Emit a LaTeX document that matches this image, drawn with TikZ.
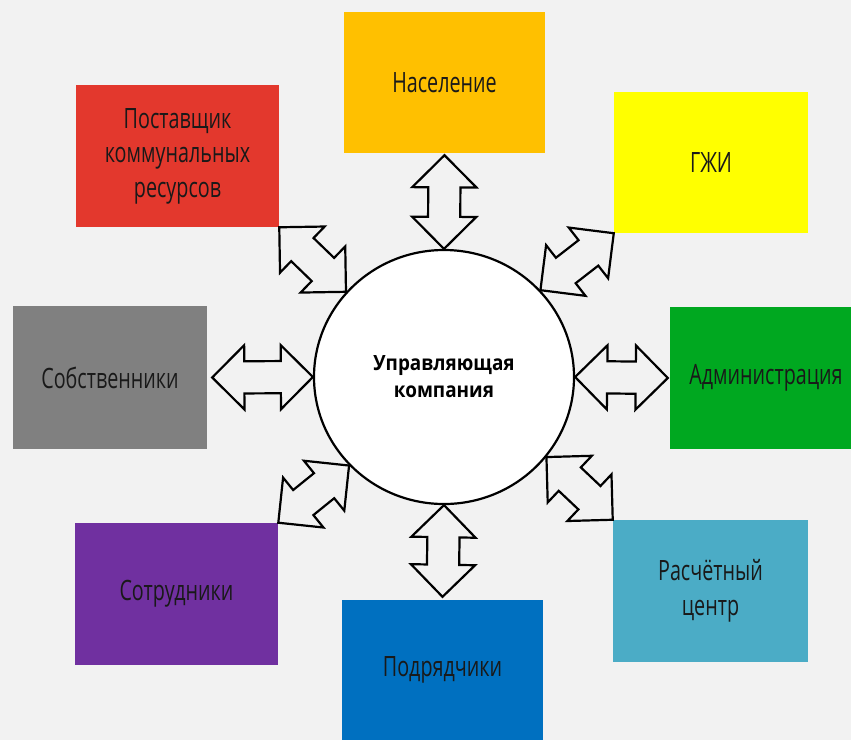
\documentclass[tikz,border=0pt]{standalone}
\usepackage{fontspec}
\setmainfont{Open Sans}[FakeStretch=0.705]
\newfontfamily\corefont{Open Sans}[FakeStretch=0.9]
\usetikzlibrary{shapes.geometric,shapes.arrows,calc}

\definecolor{bgray}{HTML}{F2F2F2}
\definecolor{cpop}{HTML}{FFC000}
\definecolor{cgzhi}{HTML}{FFFF00}
\definecolor{cadm}{HTML}{00A820}
\definecolor{ccalc}{HTML}{4BACC6}
\definecolor{ccontr}{HTML}{0070C0}
\definecolor{cstaff}{HTML}{7030A0}
\definecolor{cowner}{HTML}{808080}
\definecolor{csupp}{HTML}{E3382D}

\tikzset{
  party/.style={rectangle, inner sep=0pt, align=center, text=black!90,
    font=\fontsize{28}{34.5}\selectfont},
  link/.style={double arrow, draw=black, fill=bgray, line width=2.2pt,
    inner xsep=0pt, inner ysep=15pt, outer sep=0pt,
    double arrow head extend=16pt, double arrow head indent=0pt},
}

% arrow between two anchors
\newcommand{\linkarrow}[2]{%
  \path let \p1=(#1), \p2=(#2),
    \n1={atan2(\y2-\y1,\x2-\x1)}, \n2={veclen(\x2-\x1,\y2-\y1)} in
    node[link, rotate=\n1, minimum height=\n2] at ($(\p1)!0.5!(\p2)$) {};}

\begin{document}
\begin{tikzpicture}[x=1pt, y=-1pt]
    % Background
    \fill[bgray] (0,0) rectangle (851,740);
    \useasboundingbox (0,0) rectangle (851,740);

    % Boxes
    \node[party, fill=cpop, minimum width=201pt, minimum height=141pt] (pop) at (444.5,82.5) {Население};
    \node[party, fill=cgzhi, minimum width=194pt, minimum height=141pt] (gzhi) at (711,162.5) {ГЖИ};
    \node[party, fill=cadm, minimum width=181pt, minimum height=142pt] (adm) at (760.5,378) {\hspace*{11pt}Администрация};
    \node[party, fill=ccalc, minimum width=195pt, minimum height=142pt] (calc) at (710.5,591) {Расчётный\\центр};
    \node[party, fill=ccontr, minimum width=201pt, minimum height=140pt] (contr) at (442.5,670) {Подрядчики};
    \node[party, fill=cstaff, minimum width=203pt, minimum height=142pt] (staff) at (176.5,594) {Сотрудники};
    \node[party, fill=cowner, minimum width=194pt, minimum height=143pt] (owner) at (110,377.5) {Собственники};
    \node[party, fill=csupp, minimum width=203pt, minimum height=142pt] (supp) at (177.5,156) {Поставщик\\коммунальных\\ресурсов};

    % Centre
    \node[ellipse, draw, line width=2.2pt, fill=white, minimum width=260pt, minimum height=254pt,
      align=center, font=\corefont\bfseries\fontsize{21}{27}\selectfont] (uk) at (444,377)
      {Управляющая\\компания};

    % Arrows
    \linkarrow{uk.north}{$(pop.south)+(0,2)$}
    \linkarrow{uk.south}{$(contr.north)+(0,-3)$}
    \linkarrow{uk.west}{$(owner.east)+(5,0)$}
    \linkarrow{uk.east}{$(adm.west)+(-2,0)$}
    \linkarrow{uk.139}{supp.south east}
    \linkarrow{uk.42}{gzhi.south west}
    \linkarrow{uk.223}{staff.north east}
    \linkarrow{uk.-38}{calc.north west}
\end{tikzpicture}
\end{document}
